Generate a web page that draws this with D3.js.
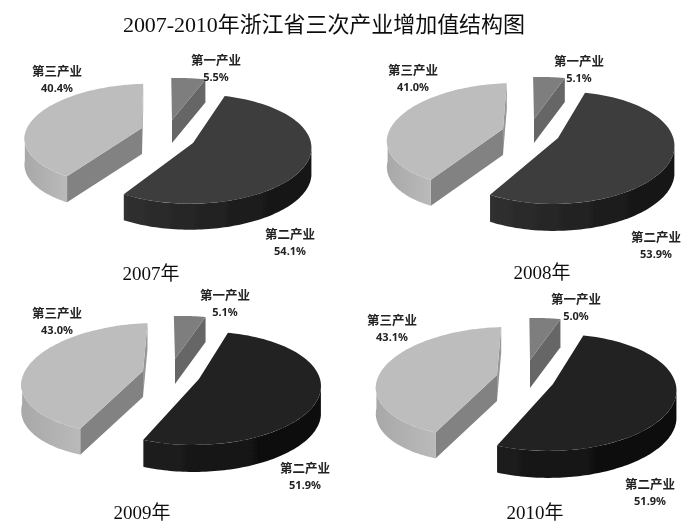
<!DOCTYPE html>
<html><head><meta charset="utf-8">
<script src="https://cdn.jsdelivr.net/npm/d3@7"></script>
<style>html,body{margin:0;padding:0;background:#fff}svg{display:block}</style>
</head><body><div id="c"></div>
<script>
const chartTitle = "2007-2010年浙江省三次产业增加值结构图";
const categories = ["第一产业","第二产业","第三产业"];
const years = ["2007年","2008年","2009年","2010年"];
const share2007 = [5.5,54.1,40.4];
const share2008 = [5.1,53.9,41.0];
const share2009 = [5.1,51.9,43.0];
const share2010 = [5.0,51.9,43.1];
const shares = [share2007,share2008,share2009,share2010];

// layout only: per panel perspective geometry of the exploded slices (index follows categories)
const layouts = [
 {start:16, year:[151,273],
  slices:[{ax:172,ay:120,r:113,c:47.5,k:.13,s:-.14,d:23},{ax:193,ay:143,r:118,c:54,k:.11,s:-.05,d:26},{ax:142,ay:128,r:115,c:50,k:.13,s:-.18,d:26}],
  labels:[[216,60],[290,234],[57,71]], top:"#3c3c3c",side:["#303030","#121212"]},
 {start:14, year:[542,272],
  slices:[{ax:534,ay:119,r:113,c:47.5,k:.13,s:-.16,d:24},{ax:558,ay:138,r:115.3,c:54.5,k:.173,s:-.07,d:27},{ax:503,ay:129,r:113,c:51.5,k:.12,s:-.25,d:26}],
  labels:[[579,61],[656,237],[413,70]], top:"#3c3c3c",side:["#303030","#121212"]},
 {start:14, year:[142,512],
  slices:[{ax:175,ay:359,r:113,c:48.7,k:.13,s:-.15,d:25},{ax:199,ay:379,r:121,c:55.2,k:.163,s:-.08,d:27},{ax:143,ay:371,r:118,c:54.2,k:.13,s:-.26,d:26}],
  labels:[[225,295],[305,468],[57,313]], top:"#222222",side:["#1e1e1e","#0a0a0a"]},
 {start:14.5, year:[535,512],
  slices:[{ax:530,ay:360,r:113,c:47.5,k:.13,s:-.13,d:28},{ax:553,ay:384,r:122.7,c:57.2,k:.145,s:-.07,d:27},{ax:497,ay:375,r:118,c:54.2,k:.13,s:-.22,d:26}],
  labels:[[576,299],[650,484],[392,320]], top:"#202020",side:["#1c1c1c","#080808"]}
];
const serif = "'Liberation Serif','Noto Sans CJK SC',serif";
const sans = "'Noto Sans','Noto Sans CJK SC',sans-serif";

const svg = d3.select("#c").append("svg").attr("width",700).attr("height",528);
const defs = svg.append("defs");
defs.append("filter").attr("id","soft").attr("x","-5%").attr("y","-5%").attr("width","110%").attr("height","110%")
  .append("feGaussianBlur").attr("stdDeviation",0.45);
function grad(id,stops){
  const g=defs.append("linearGradient").attr("id",id).attr("x1",0).attr("x2",1).attr("y1",0).attr("y2",0);
  stops.forEach((c,i)=>g.append("stop").attr("offset",i/(stops.length-1)).attr("stop-color",c));
  return `url(#${id})`;
}
const root = svg.append("g").attr("filter","url(#soft)");
const line = d3.line();
const rad = d=>d*Math.PI/180;

root.append("text").attr("x",324).attr("y",32).attr("text-anchor","middle")
  .attr("textLength",402).attr("font-family",serif).attr("font-size",22).attr("fill","#111").text(chartTitle);

shares.forEach((vals,p)=>{
  const L = layouts[p];
  const first = L.start - vals[0]*3.6;
  const arcs = d3.pie().sort(null).startAngle(rad(first)).endAngle(rad(first+360))(vals);
  const g = root.append("g");
  const project = (s,a)=>{
    const Y=-Math.cos(a), w=1-s.k*Y, y=s.c*Y/w;
    return [s.ax+s.r*Math.sin(a)/w+s.s*y, s.ay+y];
  };
  const outer = (s,a0,a1)=>d3.range(0,81).map(i=>project(s,a0+(a1-a0)*i/80));
  const down = (pts,d)=>pts.map(q=>[q[0],q[1]+d]).reverse();
  const wall = (s,a,fill)=>{
    const q=project(s,a);
    g.append("path").attr("d",line([[s.ax,s.ay],q,[q[0],q[1]+s.d],[s.ax,s.ay+s.d]])+"Z").attr("fill",fill);
  };
  arcs.forEach((arc,i)=>{
    const s=L.slices[i], a0=arc.startAngle, a1=arc.endAngle;
    if(i===0){ wall(s,a1,"#666"); }
    if(i===2){ wall(s,a1,"#979797"); wall(s,a0,"#828282"); }
    if(i===1||i===2){
      const e=Math.acos(-s.k);
      const lo=Math.max(a0,e), hi=Math.min(a1,2*Math.PI-e);
      const pts=outer(s,lo,hi);
      g.append("path").attr("d",line(pts.concat(down(pts,s.d)))+"Z")
       .attr("fill",i===1?grad(`side${p}`,L.side):grad(`lside${p}`,["#a8a8a8","#bababa"]));
    }
    g.append("path").attr("d",line([[s.ax,s.ay]].concat(outer(s,a0,a1)))+"Z")
     .attr("fill",i===0?"#7e7e7e":i===1?L.top:"#bdbdbd");
    const [lx,ly]=L.labels[i];
    g.append("text").attr("x",lx).attr("y",ly+5).attr("text-anchor","middle").attr("font-family",sans)
     .attr("font-weight",700).attr("font-size",12.5).attr("fill","#222").text(categories[i]);
    g.append("text").attr("x",lx).attr("y",ly+20.5).attr("text-anchor","middle").attr("font-family",sans)
     .attr("font-weight",700).attr("font-size",11).attr("fill","#222").text(d3.format(".1f")(vals[i])+"%");
  });
  g.append("text").attr("x",L.year[0]).attr("y",L.year[1]+7).attr("text-anchor","middle")
   .attr("font-family",serif).attr("font-size",19).attr("fill","#111").text(years[p]);
});
</script></body></html>
